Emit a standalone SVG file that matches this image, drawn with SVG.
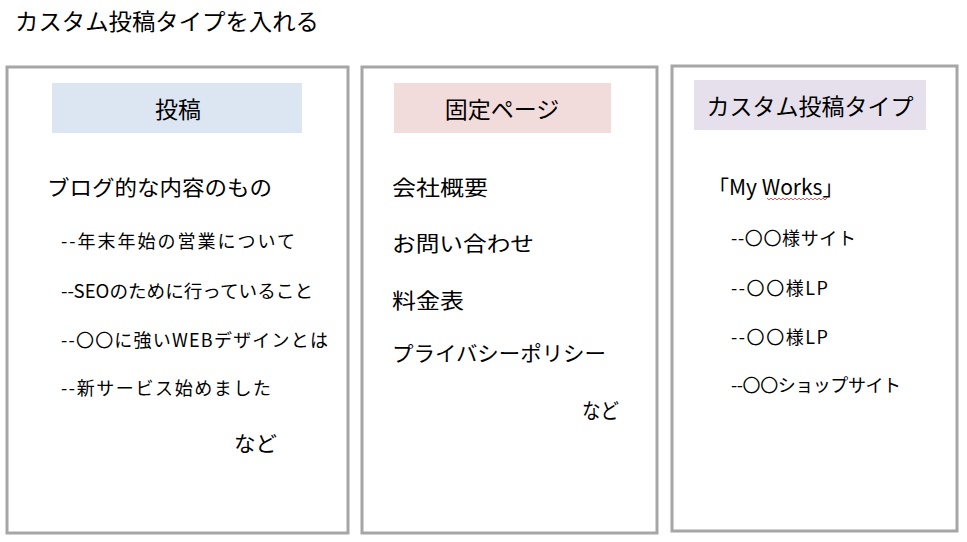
<svg xmlns="http://www.w3.org/2000/svg" width="967" height="542" viewBox="0 0 967 542">
<style>
text{font-family:"Noto Sans CJK JP","Noto Sans",sans-serif;fill:#000}
.box{fill:#fff;stroke:#a6a6a6;stroke-width:3}
.t{font-size:23px}
.h{font-size:23px;text-anchor:middle}
.b{font-size:21px}
.s{font-size:18px}
</style>
<rect width="967" height="542" fill="#fff"/>
<text class="t" x="15" y="30" textLength="304" lengthAdjust="spacingAndGlyphs">カスタム投稿タイプを入れる</text>

<g id="posts">
<rect class="box" x="7" y="67" width="341" height="466"/>
<rect x="52" y="83" width="250" height="50" fill="#dce6f2"/>
<text class="h" x="178" y="118">投稿</text>
<text class="b" x="47" y="195" textLength="225" lengthAdjust="spacingAndGlyphs">ブログ的な内容のもの</text>
<text class="s" x="61" y="248" textLength="234" lengthAdjust="spacing">--年末年始の営業について</text>
<text class="s" x="61" y="298" textLength="252" lengthAdjust="spacingAndGlyphs">--SEOのために行っていること</text>
<text class="s" x="61" y="347" textLength="267" lengthAdjust="spacing">--〇〇に強いWEBデザインとは</text>
<text class="s" x="61" y="395" textLength="210" lengthAdjust="spacing">--新サービス始めました</text>
<text class="b" x="234" y="451" textLength="43" lengthAdjust="spacingAndGlyphs">など</text>
</g>

<g id="pages">
<rect class="box" x="362" y="67" width="295" height="466"/>
<rect x="394" y="83" width="217" height="50" fill="#f2dcdb"/>
<text class="h" x="502" y="118">固定ページ</text>
<text class="b" x="392" y="195" textLength="96" lengthAdjust="spacingAndGlyphs">会社概要</text>
<text class="b" x="392" y="251" textLength="142" lengthAdjust="spacingAndGlyphs">お問い合わせ</text>
<text class="b" x="392" y="308" textLength="72" lengthAdjust="spacingAndGlyphs">料金表</text>
<text class="b" x="392" y="361" textLength="214" lengthAdjust="spacingAndGlyphs">プライバシーポリシー</text>
<text class="b" x="582" y="418" textLength="37" lengthAdjust="spacingAndGlyphs">など</text>
</g>

<g id="custom">
<rect class="box" x="672" y="66" width="285" height="465"/>
<rect x="694" y="80" width="232" height="50" fill="#e6e0ec"/>
<text class="h" x="810" y="115">カスタム投稿タイプ</text>
<text class="b" x="708" y="195">「My Works」</text>
<polyline points="767,198 769,200 771,198 773,200 775,198 777,200 779,198 781,200 783,198 785,200 787,198 789,200 791,198 793,200 795,198 797,200 799,198 801,200 803,198 805,200 807,198 809,200 811,198 813,200 815,198 817,200 819,198 821,200 823,198 825,200 827,198" fill="none" stroke="#e03030" stroke-width="0.8"/>
<text class="s" x="731" y="245" textLength="125" lengthAdjust="spacing">--〇〇様サイト</text>
<text class="s" x="731" y="295" textLength="97" lengthAdjust="spacing">--〇〇様LP</text>
<text class="s" x="731" y="344" textLength="97" lengthAdjust="spacing">--〇〇様LP</text>
<text class="s" x="731" y="392" textLength="170" lengthAdjust="spacing">--〇〇ショップサイト</text>
</g>
<g id="connectors"></g>
</svg>
